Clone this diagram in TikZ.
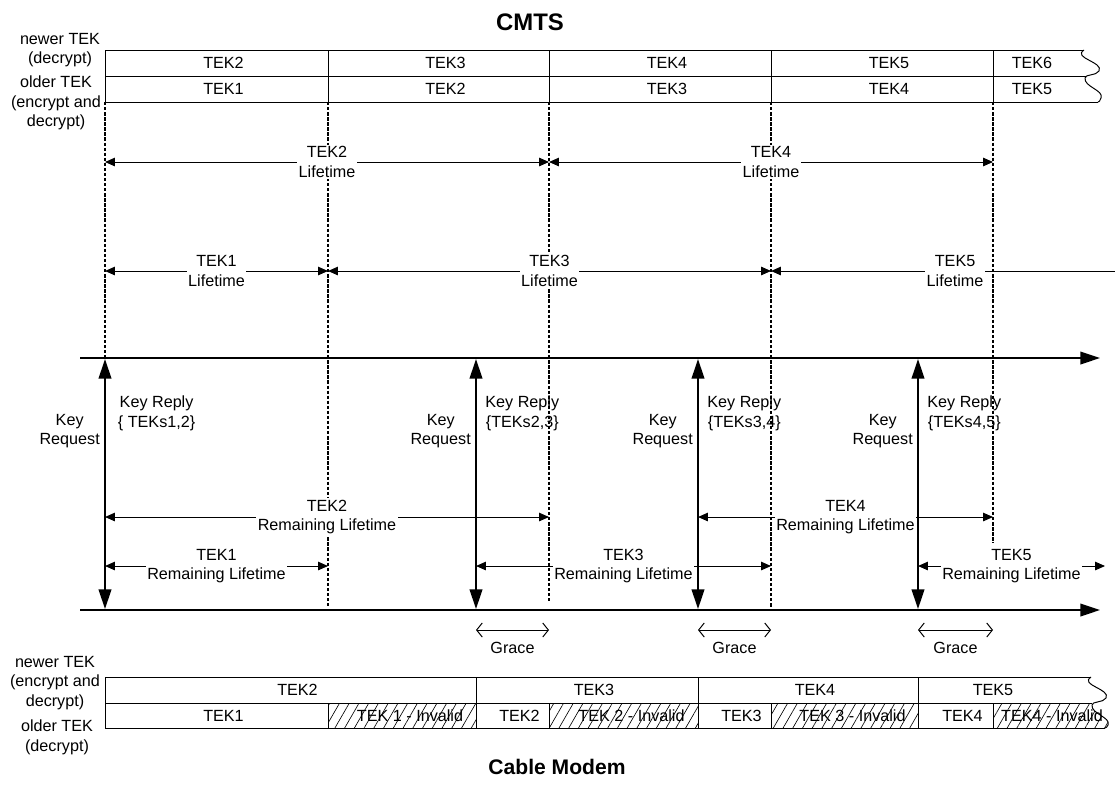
\documentclass[tikz,border=0pt]{standalone}
\usepackage{fontspec}
\setmainfont{Liberation Sans}
\usetikzlibrary{arrows.meta, positioning, calc, patterns.meta}

\tikzset{
  lbl/.style={font=\fontsize{11.5}{14}\selectfont, align=center, inner sep=1pt},
  tag/.style={lbl, fill=white},
  heading/.style={font=\fontsize{17}{20}\selectfont\bfseries},
  cell/.style={draw, line width=0.7pt},
  hatch/.style={pattern={Lines[angle=60, distance=6pt, line width=0.45pt]}},
  epoch/.style={line width=1.3pt, dash pattern=on 2.4pt off 1.2pt},
  timeline/.style={line width=1.2pt, -{Triangle[length=14pt, width=9pt]}},
  keyarrow/.style={line width=1.4pt, {Triangle[length=14pt, width=9pt]}-{Triangle[length=14pt, width=9pt]}},
  span/.style={line width=0.7pt, <->},
  grace/.style={line width=0.7pt, {Straight Barb[length=4pt, width=10pt]}-{Straight Barb[length=4pt, width=10pt]}}
}

\begin{document}
\begin{tikzpicture}[x=0.025cm, y=-0.025cm, >={Triangle[length=7pt, width=6pt]}]
\useasboundingbox (0,0) rectangle (1115,785);

% titles
\node[heading] (cmts) at (530,22) {CMTS};
\node[heading, font=\fontsize{15}{18}\selectfont\bfseries] (cm) at (557,767) {Cable Modem};

% side labels
\node[lbl] (cmts-new) at (60,50) {newer TEK\\(decrypt)};
\node[lbl] (cmts-old) at (56,103) {older TEK\\(encrypt and\\decrypt)};
\node[lbl] (cm-new) at (55,683) {newer TEK\\(encrypt and\\decrypt)};
\node[lbl] (cm-old) at (57,737) {older TEK\\(decrypt)};

% CMTS key table
\foreach \a/\b/\t [count=\i] in {105/328/TEK2, 328/549/TEK3, 549/771/TEK4, 771/993/TEK5} {
  \draw[cell] (\a,50) rectangle (\b,76);
  \node[lbl] (cn\i) at ({(\a+\b)/2+7},63) {\t};
}
\foreach \a/\b/\t [count=\i] in {105/328/TEK1, 328/549/TEK2, 549/771/TEK3, 771/993/TEK4} {
  \draw[cell] (\a,76) rectangle (\b,102);
  \node[lbl] (co\i) at ({(\a+\b)/2+7},89) {\t};
}
\draw[cell] (1084,50) -- (993,50) -- (993,102) -- (1098,102);
\draw[cell] (993,76) -- (1086,76);
\draw[cell] (1084,50) .. controls (1072,58) and (1104,62) .. (1099,71) .. controls (1096,76) and (1085,74) .. (1085,78) .. controls (1084,87) and (1104,90) .. (1101,98) .. controls (1100,101) and (1099,102) .. (1098,102);
\node[lbl] (cn5) at (1032,63) {TEK6};
\node[lbl] (co5) at (1032,89) {TEK5};

% Cable Modem key table
\foreach \a/\b in {328/476, 549/698, 771/918}
  \fill[hatch] (\a,703) rectangle (\b,728);
\fill[hatch] (993,703) -- (1092,703) -- (1092,705) .. controls (1091,714) and (1111,717) .. (1108,725) .. controls (1107,727) and (1106,728) .. (1105,728) -- (993,728) -- cycle;
\foreach \a/\b/\t [count=\i] in {105/476/TEK2, 476/698/TEK3, 698/918/TEK4} {
  \draw[cell] (\a,677) rectangle (\b,703);
  \node[lbl] (mn\i) at ({(\a+\b)/2+7},690) {\t};
}
\foreach \a/\b/\t [count=\i] in {105/328/TEK1, 476/549/TEK2, 698/771/TEK3, 918/993/TEK4} {
  \draw[cell] (\a,703) rectangle (\b,728);
  \node[lbl] (mo\i) at ({(\a+\b)/2+7},716) {\t};
}
\foreach \a/\b/\t [count=\i] in {328/476/TEK 1 - Invalid, 549/698/TEK 2 - Invalid, 771/918/TEK 3 - Invalid} {
  \draw[cell] (\a,703) rectangle (\b,728);
  \node[lbl] (mx\i) at ({(\a+\b)/2+8},716) {\t};
}
\draw[cell] (1091,677) -- (918,677) -- (918,728) -- (1105,728);
\draw[cell] (918,703) -- (1092,703);
\draw[cell] (1091,677) .. controls (1079,685) and (1111,689) .. (1106,698) .. controls (1103,703) and (1092,701) .. (1092,705) .. controls (1091,714) and (1111,717) .. (1108,725) .. controls (1107,727) and (1106,728) .. (1105,728);
\node[lbl] (mn4) at (993,690) {TEK5};
\node[lbl] (mx4) at (1052,716) {TEK4 - Invalid};

% key change instants
\foreach \n/\x/\y in {a/105/358, b/328/606, c/549/603, d/771/607, e/993/543} {
  \coordinate (\n-top) at (\x,102);
  \coordinate (\n-bot) at (\x,\y);
  \draw[epoch] (\n-top) -- (\n-bot);
}
\coordinate (lt1) at (0,162);
\coordinate (lt2) at (0,271);
\coordinate (rl1) at (0,517);
\coordinate (rl2) at (0,566);
\coordinate (gr) at (0,630);
\coordinate (lt-end) at (1115,271);
\coordinate (rl-end) at (1105,566);

% time axes
\coordinate (cmts-start) at (80,358);
\coordinate (cmts-end) at (1100,358);
\coordinate (cm-start) at (80,610);
\coordinate (cm-end) at (1100,610);
\draw[timeline] (cmts-start) -- (cmts-end);
\draw[timeline] (cm-start) -- (cm-end);

% key request / reply
\foreach \n/\x in {k1/105, k2/476, k3/698, k4/918} {
  \coordinate (\n-up) at (\x,359);
  \coordinate (\n-dn) at (\x,609);
  \coordinate (\n-q) at (\x,431);
  \coordinate (\n-r) at (\x,413);
  \draw[keyarrow] (\n-up) -- (\n-dn);
}
\node[lbl, left=2.5pt of k1-q] (kq1) {Key\\Request};
\node[lbl, left=2.5pt of k2-q] (kq2) {Key\\Request};
\node[lbl, left=2.5pt of k3-q] (kq3) {Key\\Request};
\node[lbl, left=2.5pt of k4-q] (kq4) {Key\\Request};
\node[lbl, right=8pt of k1-r] (kr1) {Key Reply\\\{ TEKs1,2\}};
\node[lbl, right=5.5pt of k2-r] (kr2) {Key Reply\\\{TEKs2,3\}};
\node[lbl, right=5.5pt of k3-r] (kr3) {Key Reply\\\{TEKs3,4\}};
\node[lbl, right=5.5pt of k4-r] (kr4) {Key Reply\\\{TEKs4,5\}};

% lifetimes at the CMTS
\draw[span] (a-top |- lt1) -- node[tag] (lt2-lbl) {TEK2\\Lifetime} (c-top |- lt1);
\draw[span] (c-top |- lt1) -- node[tag] (lt4-lbl) {TEK4\\Lifetime} (e-top |- lt1);
\draw[span] (a-top |- lt2) -- node[tag] (lt1-lbl) {TEK1\\Lifetime} (b-top |- lt2);
\draw[span] (b-top |- lt2) -- node[tag] (lt3-lbl) {TEK3\\Lifetime} (d-top |- lt2);
\draw[span, <-] (d-top |- lt2) -- node[tag, pos=0.535] (lt5-lbl) {TEK5\\Lifetime} (lt-end);

% remaining lifetimes at the modem
\draw[span] (k1-q |- rl1) -- node[tag] (rl2-lbl) {TEK2\\Remaining Lifetime} (c-top |- rl1);
\draw[span] (k1-q |- rl2) -- node[tag] (rl1-lbl) {TEK1\\Remaining Lifetime} (b-top |- rl2);
\draw[span] (k2-q |- rl2) -- node[tag] (rl3-lbl) {TEK3\\Remaining Lifetime} (d-top |- rl2);
\draw[span] (k3-q |- rl1) -- node[tag] (rl4-lbl) {TEK4\\Remaining Lifetime} (e-top |- rl1);
\draw[span] (k4-q |- rl2) -- node[tag] (rl5-lbl) {TEK5\\Remaining Lifetime} (rl-end);

% grace periods
\draw[grace] (k2-q |- gr) -- node[lbl, below=7.5pt] (g2) {Grace} (c-top |- gr);
\draw[grace] (k3-q |- gr) -- node[lbl, below=7.5pt] (g3) {Grace} (d-top |- gr);
\draw[grace] (k4-q |- gr) -- node[lbl, below=7.5pt] (g4) {Grace} (e-top |- gr);
\end{tikzpicture}
\end{document}
